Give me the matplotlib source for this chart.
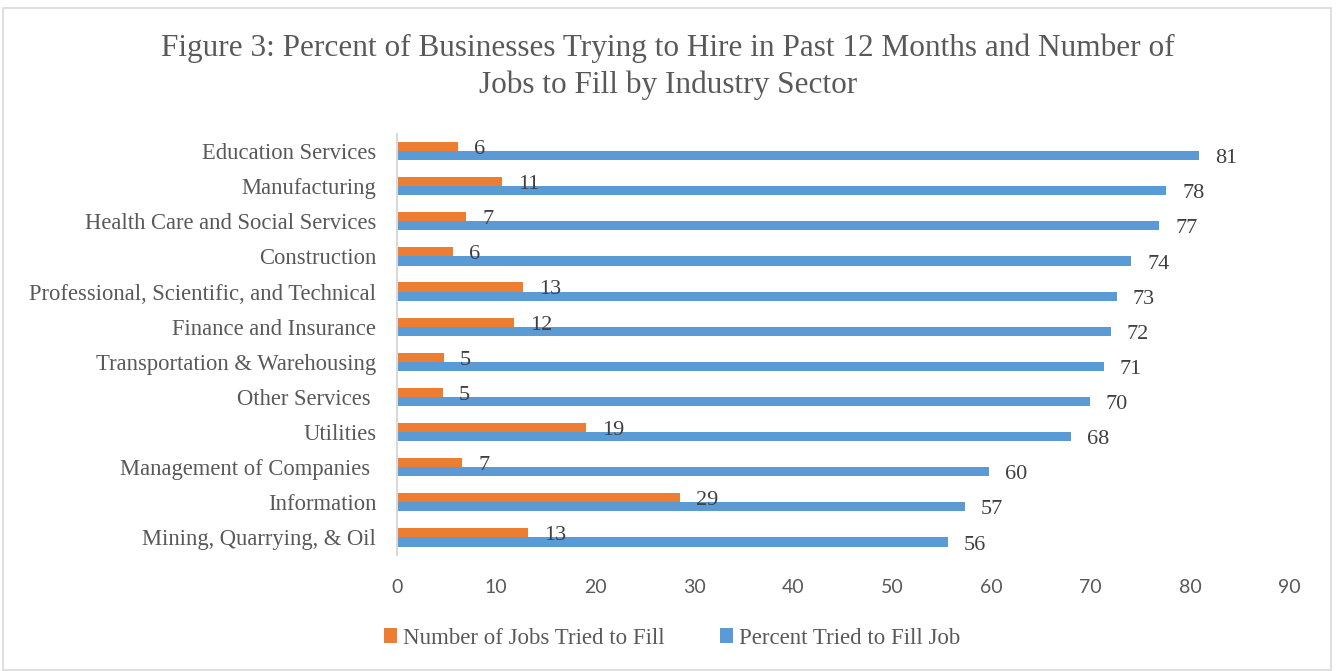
import matplotlib
matplotlib.use("Agg")
import matplotlib.pyplot as plt
import numpy as np
from matplotlib.patches import Rectangle

# Industry sectors, top to bottom
sectors = [
    "Education Services",
    "Manufacturing",
    "Health Care and Social Services",
    "Construction",
    "Professional, Scientific, and Technical",
    "Finance and Insurance",
    "Transportation & Warehousing",
    "Other Services ",
    "Utilities",
    "Management of Companies ",
    "Information",
    "Mining, Quarrying, & Oil",
]

# Number of jobs businesses tried to fill
jobs_to_fill = [6.2, 10.6, 7.0, 5.6, 12.7, 11.8, 4.7, 4.6, 19.1, 6.6, 28.6, 13.2]
# Percent of businesses that tried to fill a job
pct_tried = [80.9, 77.6, 76.9, 74.1, 72.6, 72.0, 71.3, 69.9, 68.0, 59.7, 57.3, 55.6]

series_names = ["Number of Jobs Tried to Fill", "Percent Tried to Fill Job"]
x_ticks = [0, 10, 20, 30, 40, 50, 60, 70, 80, 90]

ORANGE = "#ED7D31"
BLUE = "#5B9BD5"
TEXT = "#595959"
LABEL = "#404040"
SERIF = ["Liberation Serif", "DejaVu Serif"]
SANS = ["Lato", "DejaVu Sans"]

fig = plt.figure(figsize=(13.36, 6.71), dpi=100)
fig.patch.set_facecolor("white")

# light chart-area frame
fig.patches.append(Rectangle((3 / 1336, 1 / 671), 1328 / 1336, 662 / 671,
                             transform=fig.transFigure, fill=False,
                             edgecolor="#D9D9D9", linewidth=1.2))

ax = fig.add_axes([397 / 1336, (671 - 555) / 671, (1289 - 397) / 1336, (555 - 133.5) / 671])

y = np.arange(len(sectors))
h = 0.26
b1 = ax.barh(y - h / 2, jobs_to_fill, height=h, color=ORANGE, label=series_names[0])
b2 = ax.barh(y + h / 2, pct_tried, height=h, color=BLUE, label=series_names[1])

# value labels just past each bar end, a touch below the bar centre
for bars, vals in ((b1, jobs_to_fill), (b2, pct_tried)):
    for rect, v in zip(bars, vals):
        ax.annotate(f"{v:.0f}", xy=(v, rect.get_y() + rect.get_height() / 2),
                    xytext=(16, -3), textcoords="offset pixels",
                    ha="left", va="center", fontsize=16, color=LABEL,
                    family=SERIF)

ax.set_ylim(len(sectors) - 0.5, -0.5)
ax.set_xlim(0, 90)
ax.set_xticks(x_ticks)
ax.set_xticklabels([str(t) for t in x_ticks], family=SANS, fontsize=14, color=TEXT)
ax.set_yticks(y)
ax.set_yticklabels(sectors, family=SERIF, fontsize=16.3, color=TEXT)
ax.tick_params(axis="both", length=0)
ax.tick_params(axis="x", pad=17)
ax.tick_params(axis="y", pad=15)

for side in ["top", "right", "bottom"]:
    ax.spines[side].set_visible(False)
ax.spines["left"].set_color("#D9D9D9")
ax.spines["left"].set_linewidth(1.5)

fig.text(0.5, (671 - 67) / 671,
         "Figure 3: Percent of Businesses Trying to Hire in Past 12 Months and Number of\nJobs to Fill by Industry Sector",
         ha="center", va="center", fontsize=22.5, color=TEXT, family=SERIF,
         linespacing=1.34)

leg = fig.legend(handles=[b1, b2], labels=series_names, loc="center",
                 bbox_to_anchor=(672 / 1336, (671 - 638) / 671), ncol=2,
                 frameon=False, handlelength=0.6, handleheight=0.6,
                 handletextpad=0.25, columnspacing=2.4,
                 prop={"family": SERIF, "size": 16.5})
for t in leg.get_texts():
    t.set_color(TEXT)

fig.savefig("out.png", dpi=100, facecolor="white")
